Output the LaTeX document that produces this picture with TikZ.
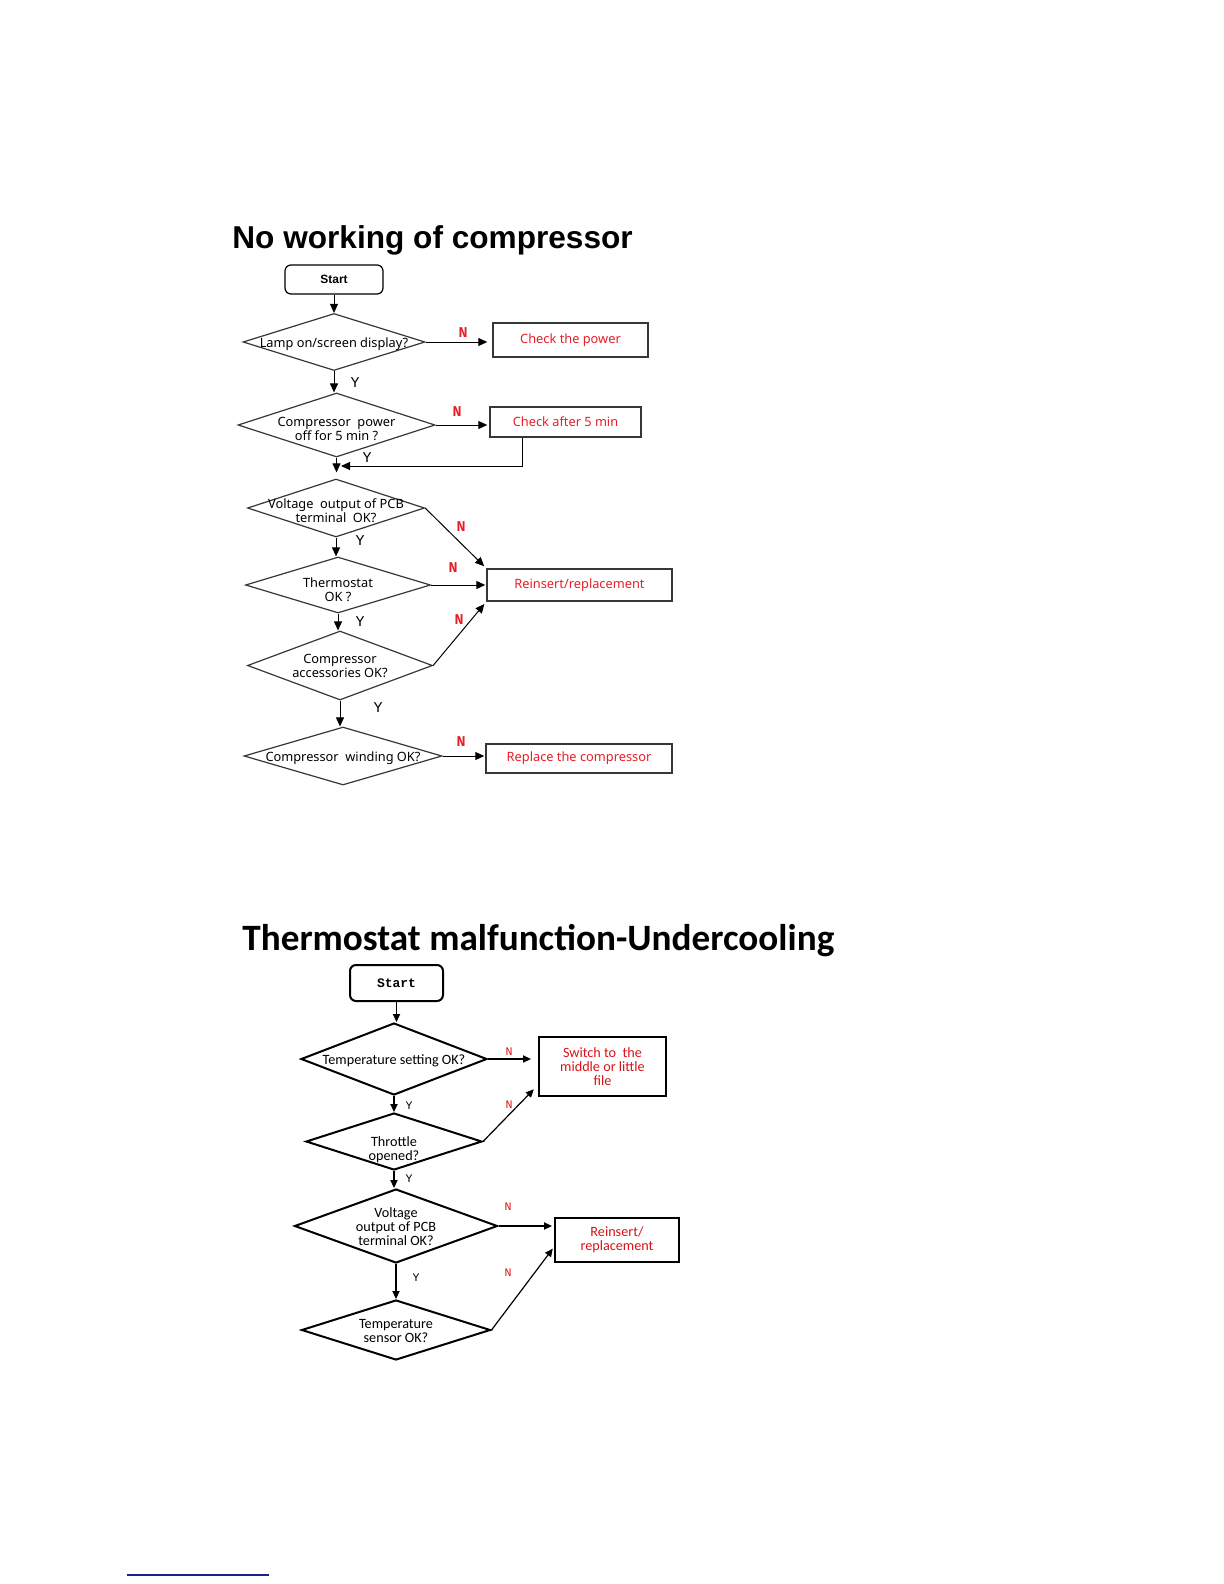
\documentclass[tikz,border=0pt]{standalone}
\usepackage{fontspec}
\usetikzlibrary{shapes.geometric,arrows.meta,calc}
\newfontfamily\fa{Noto Sans}
\newfontfamily\fb{Carlito}
\newfontfamily\fm{Liberation Mono}
\newfontfamily\fh{Liberation Sans}
\definecolor{myred}{RGB}{232,30,40}
\definecolor{myredb}{RGB}{215,20,25}
\definecolor{mygray}{RGB}{55,55,55}
\definecolor{myblue}{RGB}{30,30,150}
\newcommand\dtx[2][3pt]{\smash{\makebox[0pt]{\raisebox{-#1}{\begin{tabular}{@{}c@{}}#2\end{tabular}}}}}
\begin{document}
\begin{tikzpicture}[x=0.5pt,y=-0.5pt,
  dA/.style={diamond, draw=mygray, line width=0.6pt, inner sep=0pt, font=\fa\fontsize{6.4}{7}\selectfont},
  bA/.style={rectangle, draw=mygray, line width=0.7pt, inner sep=0pt, text=myred, font=\fa\fontsize{6.4}{7}\selectfont},
  sA/.style={rectangle, rounded corners=3pt, draw=black, line width=0.6pt, inner sep=0pt, font=\fh\bfseries\fontsize{6}{7}\selectfont},
  aA/.style={-{Triangle[length=4.5pt,width=4pt]}, line width=0.5pt},
  nA/.style={text=myred, font=\fm\bfseries\fontsize{7.5}{8}\selectfont},
  yA/.style={font=\fm\fontsize{7.5}{8}\selectfont},
  dB/.style={diamond, draw=black, line width=1pt, inner sep=0pt, font=\fb\fontsize{7.1}{7}\selectfont},
  bB/.style={rectangle, draw=black, line width=1pt, inner sep=0pt, align=center, text=myredb, font=\fb\fontsize{7.1}{7}\selectfont},
  sB/.style={rectangle, rounded corners=3pt, draw=black, line width=1pt, inner sep=0pt, font=\fm\bfseries\fontsize{6.5}{7}\selectfont},
  aB/.style={-{Triangle[length=4pt,width=3.6pt]}, line width=0.6pt},
  nB/.style={text=myredb, font=\fm\fontsize{5.8}{6}\selectfont},
  yB/.style={font=\fm\fontsize{5.8}{6}\selectfont}
]
\useasboundingbox (0,0) rectangle (1224,1584);
\fill[white] (0,0) rectangle (1224,1584);

% ---------- Chart 1 ----------
\node[anchor=base west, inner sep=0pt, font=\fh\bfseries\fontsize{15.8}{18}\selectfont] (title1) at (232,248) {No working of compressor};
\node[sA, minimum width=49pt, minimum height=14.5pt] (s1) at (334,279.5) {Start};
\node[dA, minimum width=91pt, minimum height=28.5pt] (d1) at (334,342) {\dtx{Lamp on/screen display?}};
\node[bA, minimum width=77.5pt, minimum height=17pt] (b1) at (570.5,340) {Check the power};
\node[dA, minimum width=98.5pt, minimum height=32pt] (d2) at (336.5,425) {\dtx[4.5pt]{Compressor~ power\\off for 5 min ?}};
\node[bA, minimum width=75.5pt, minimum height=15pt] (b2) at (565.5,422) {Check after 5 min};
\coordinate (m1) at (337,466);
\node[dA, minimum width=88.5pt, minimum height=29pt] (d3) at (336,508) {\dtx[4pt]{Voltage~ output of PCB\\terminal~ OK?}};
\node[dA, minimum width=92.5pt, minimum height=28pt] (d4) at (338,585) {\dtx[5pt]{Thermostat\\OK ?}};
\node[bA, minimum width=92.5pt, minimum height=16pt] (b3) at (579.5,585) {Reinsert/replacement};
\node[dA, minimum width=92.5pt, minimum height=34.5pt] (d5) at (340,665.5) {\dtx[2.5pt]{Compressor\\accessories OK?}};
\node[dA, minimum width=99pt, minimum height=29pt] (d6) at (343,756) {\dtx{Compressor~ winding OK?}};
\node[bA, minimum width=93pt, minimum height=14.5pt] (b4) at (579,758.5) {Replace the compressor};

\draw[aA] (s1.south) -- (s1.south |- d1.north);
\draw[aA, shorten >=2.5pt] (d1.east) -- (d1.east -| b1.west);
\draw[aA] (d1.south) -- (d1.south |- d2.north);
\draw[aA, shorten >=1pt] (d2.east) -- (d2.east -| b2.west);
\draw[aA, shorten >=3pt] (d2.south) -- (d2.south |- d3.north);
\draw[aA, shorten >=2pt] ($(b2.south west)+(16.5pt,0)$) |- (m1);
\draw[aA] (d3.south) -- (d3.south |- d4.north);
\draw[aA, shorten >=1.5pt] (d3.east) -- (b3.north west);
\draw[aA, shorten >=0.5pt] (d4.east) -- (d4.east -| b3.west);
\draw[aA] (d4.south) -- (d4.south |- d5.north);
\draw[aA, shorten >=1.5pt] (d5.east) -- (b3.south west);
\draw[aA] (d5.south) -- (d5.south |- d6.north);
\draw[aA, shorten >=0.5pt] (d6.east) -- (d6.east -| b4.west);

\node[nA] (n1) at (463,333) {N};
\node[yA] (y1) at (355,383) {Y};
\node[nA] (n2) at (457,412) {N};
\node[yA] (y2) at (367,458) {Y};
\node[nA] (n3) at (461,527) {N};
\node[yA] (y3) at (360,541) {Y};
\node[nA] (n4) at (453,568) {N};
\node[yA] (y4) at (360,622) {Y};
\node[nA] (n5) at (459,620) {N};
\node[yA] (y5) at (378,708) {Y};
\node[nA] (n6) at (461,742) {N};

% ---------- Chart 2 ----------
\node[anchor=base west, inner sep=0pt, font=\fb\bfseries\fontsize{18.6}{22}\selectfont] (title2) at (242,950) {Thermostat malfunction-Undercooling};
\node[sB, minimum width=46.5pt, minimum height=18pt] (ts) at (396.5,983) {Start};
\node[dB, minimum width=93pt, minimum height=36pt] (t1) at (394,1059) {\dtx{Temperature setting OK?}};
\node[bB, minimum width=63.5pt, minimum height=29.5pt] (tb1) at (602.5,1066.5) {Switch to~ the\\middle or little\\file};
\node[dB, minimum width=88pt, minimum height=28.5pt] (t2) at (394,1141.5) {\dtx[6.5pt]{Throttle\\opened?}};
\node[dB, minimum width=101.5pt, minimum height=37pt] (t3) at (396,1226) {\dtx{Voltage\\output of PCB\\terminal OK?}};
\node[bB, minimum width=62pt, minimum height=22pt] (tb2) at (617,1240) {Reinsert/\\replacement};
\node[dB, minimum width=94.5pt, minimum height=30pt] (t4) at (396,1330) {\dtx{Temperature\\sensor OK?}};

\draw[aB] (ts.south) -- (ts.south |- t1.north);
\draw[aB, shorten >=3.5pt] (t1.east) -- (t1.east -| tb1.west);
\draw[aB] (t1.south) -- (t1.south |- t2.north);
\draw[aB, shorten >=3pt] (t2.east) -- ($(tb1.south west)+(0,6pt)$);
\draw[aB] (t2.south) -- (t2.south |- t3.north);
\draw[aB, shorten >=1pt] (t3.east) -- (t3.east -| tb2.west);
\draw[aB] (t3.south) -- (t3.south |- t4.north);
\draw[aB, shorten >=1pt] (t4.east) -- ($(tb2.south west)+(0,8pt)$);

\node[nB] (tn1) at (509,1052) {N};
\node[yB] (ty1) at (409,1106) {Y};
\node[nB] (tn2) at (509,1105) {N};
\node[yB] (ty2) at (409,1179) {Y};
\node[nB] (tn3) at (508,1207) {N};
\node[yB] (ty3) at (416,1278) {Y};
\node[nB] (tn4) at (508,1273) {N};

% footnote rule
\draw[myblue, line width=0.8pt] (127,1575) -- (269,1575);
\end{tikzpicture}
\end{document}
